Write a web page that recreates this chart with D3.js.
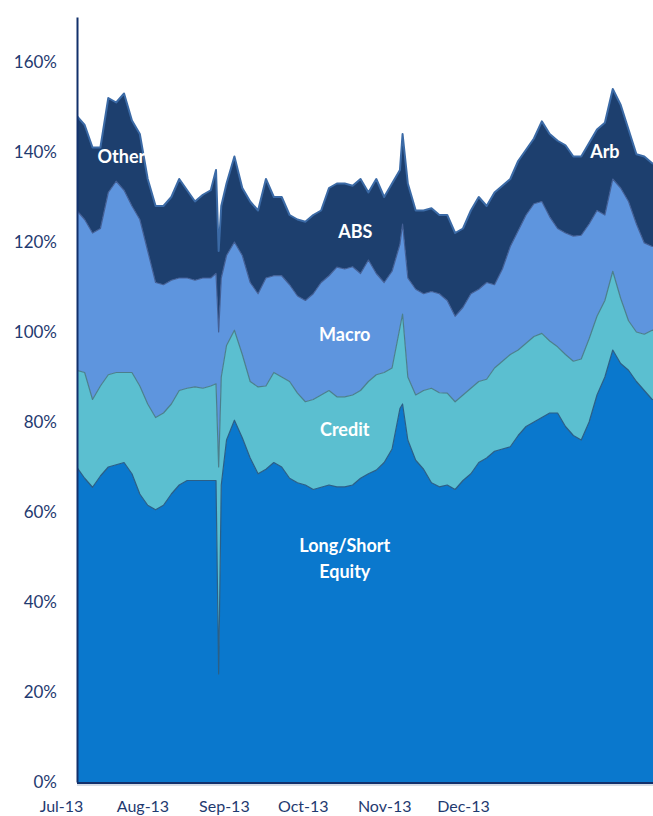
<!DOCTYPE html>
<html>
<head>
<meta charset="utf-8">
<script src="https://cdn.jsdelivr.net/npm/d3@7"></script>
<style>
  html, body { margin: 0; padding: 0; background: #ffffff; }
  svg { display: block; }
</style>
</head>
<body>
<svg id="chart" width="653" height="816"></svg>
<script>
// ---- Data (percent of capital) ----
const dates = [
  "2013-07-07","2013-07-10","2013-07-13","2013-07-16","2013-07-19","2013-07-22","2013-07-25","2013-07-28","2013-07-31",
  "2013-08-03","2013-08-06","2013-08-09","2013-08-12","2013-08-15","2013-08-18","2013-08-21","2013-08-24","2013-08-27",
  "2013-08-29","2013-08-30","2013-08-31",
  "2013-09-02","2013-09-05","2013-09-08","2013-09-11","2013-09-14","2013-09-17","2013-09-20","2013-09-23","2013-09-26","2013-09-29",
  "2013-10-02","2013-10-05","2013-10-08","2013-10-11","2013-10-14","2013-10-17","2013-10-20","2013-10-23","2013-10-26","2013-10-29",
  "2013-11-01","2013-11-04","2013-11-07","2013-11-08","2013-11-10","2013-11-13","2013-11-16","2013-11-19","2013-11-22","2013-11-25","2013-11-28",
  "2013-12-01","2013-12-04","2013-12-07","2013-12-10","2013-12-13","2013-12-16","2013-12-19","2013-12-22","2013-12-25","2013-12-28","2013-12-31",
  "2014-01-03","2014-01-06","2014-01-09","2014-01-12","2014-01-15","2014-01-18","2014-01-21","2014-01-24","2014-01-27","2014-01-30",
  "2014-02-02","2014-02-05","2014-02-08","2014-02-11","2014-02-14"
];
const longShortEquity = [
  70,67.5,65.5,68,70,70.5,71,68.5,64,
  61.5,60.5,61.5,64,66,67,67,67,67,
  67,24,66,
  76,80.4,76.5,72,68.5,69.5,71,70,67.5,66.5,
  66,65,65.5,66,65.6,65.6,66,67.5,68.5,69.3,
  71,74,83,84,76,71.5,69.5,66.5,65.6,66,65,
  67,68.5,71,72,73.5,74,74.5,77,79,80,81,
  82,82,79,77,76,80,86,90,96,93,
  91.5,89,87,85,85
];
const credit = [
  21.5,23.5,19.5,20,20.5,20.5,20,22.5,24,
  22.5,20.5,20.5,20,21,20.5,20.8,20.5,21,
  21.5,46,24,
  21,20,18.5,17,19.3,18.5,20,20,21.5,19.9,
  18.5,20,20.5,21,20,20,20,19.5,20.5,21.2,
  20,18,18,20,14,14.5,17.5,21,20.9,20.4,19.5,
  19,19,18,17.5,18.5,19.5,20.5,19,18.5,19,18.7,
  16,14.7,16,16.5,18,18.5,17.5,17,17.5,14.5,
  11,11,12.5,15.4,15
];
const macro = [
  35.5,34,37,35,40.5,42.5,40.5,37,37,
  34,30,28.5,27.5,25,24.5,23.7,24.5,24,
  24.5,30,22,
  20,19.6,22,22,20.7,24,21.5,22.5,21.5,21.6,
  22.5,23.5,25,25.5,28.8,28.4,28.5,26,27,22.5,
  20,21.5,18.5,20,22,23.5,21.5,21.5,22,20.6,19,
  19.5,21,20.5,21.5,18.5,20.5,24,26.5,28.5,29.5,29.3,
  27.6,26.3,27,27.8,27.5,25.5,23.5,19,20.5,24.5,
  26.5,24,20.3,18.6,19
];
const absArbOther = [
  21,21,19,18,21,17.5,21.5,19,19,
  16,17,17.5,18.5,22,19.5,17.5,18.5,19.5,
  23,18,16,
  16,19,15,18,18.5,22,17.5,17.5,15.5,17,
  17.5,17.5,16,19.5,18.6,19,18,21,15,21,
  19,19.5,16.5,20,21,17.5,18.5,18.5,17.5,19,18.5,
  17.5,18.5,20.5,17,20.5,18.5,15,15.5,14.5,14.5,17.8,
  18.4,19.5,19.5,17.7,17.5,18,18,20.5,20,18.5,
  16,15.5,19.2,18.5,18
];
const seriesKeys = ["Long/Short Equity", "Credit", "Macro", "ABS / Arb / Other"];
const seriesColors = ["#0a78cd", "#5bbfd0", "#5e95de", "#1d3f6e"];
const edgeColors   = ["#2b5f86", "#4b7f8c", "#435f95", "#3b6aa6"];
const yTicks = [0, 20, 40, 60, 80, 100, 120, 140, 160];
const monthTicks = ["2013-07-01","2013-08-01","2013-09-01","2013-10-01","2013-11-01","2013-12-01"];
const areaLabels = [
  { text: ["Other"], date: "2013-07-24", value: 137.5 },
  { text: ["ABS"], date: "2013-10-21", value: 121 },
  { text: ["Macro"], date: "2013-10-17", value: 98 },
  { text: ["Credit"], date: "2013-10-17", value: 77 },
  { text: ["Long/Short", "Equity"], date: "2013-10-17", value: 51.1 },
  { text: ["Arb"], date: "2014-01-24", value: 138.7 }
];

// ---- Build table ----
const parse = d3.utcParse("%Y-%m-%d");
const rows = dates.map((d, i) => ({
  date: parse(d),
  [seriesKeys[0]]: longShortEquity[i],
  [seriesKeys[1]]: credit[i],
  [seriesKeys[2]]: macro[i],
  [seriesKeys[3]]: absArbOther[i]
}));

const svg = d3.select("#chart");
const W = 653, H = 816;
const plotLeft = 77, plotBottom = 782;

const x = d3.scaleUtc()
  .domain([parse("2013-07-01"), parse("2013-12-01")])
  .range([61, 463]);
const y = d3.scaleLinear().domain([0, 170]).range([plotBottom, 17]);

const stack = d3.stack().keys(seriesKeys);
const layers = stack(rows);

svg.append("defs").append("clipPath").attr("id", "plotclip")
  .append("rect").attr("x", plotLeft).attr("y", 0).attr("width", W - plotLeft).attr("height", plotBottom);

const plot = svg.append("g").attr("clip-path", "url(#plotclip)");

const area = d3.area()
  .x(d => x(d.data.date))
  .y0(d => y(d[0]))
  .y1(d => y(d[1]));
const topLine = d3.line()
  .x(d => x(d.data.date))
  .y(d => y(d[1]));

layers.slice().reverse().forEach(layer => {
  const i = seriesKeys.indexOf(layer.key);
  plot.append("path")
    .datum(layer)
    .attr("fill", seriesColors[i])
    .attr("d", area);
});
layers.forEach(layer => {
  const i = seriesKeys.indexOf(layer.key);
  plot.append("path")
    .datum(layer)
    .attr("fill", "none")
    .attr("stroke", edgeColors[i])
    .attr("stroke-width", i === 3 ? 2 : 1.2)
    .attr("stroke-linejoin", "round")
    .attr("d", topLine);
});

// ---- Area labels ----
areaLabels.forEach(l => {
  const t = svg.append("text")
    .attr("x", x(parse(l.date)))
    .attr("y", y(l.value))
    .attr("text-anchor", "middle")
    .attr("font-family", "Lato, 'Open Sans', sans-serif")
    .attr("font-weight", "bold")
    .attr("font-size", 18)
    .attr("fill", "#ffffff");
  l.text.forEach((s, k) => {
    t.append("tspan").attr("x", x(parse(l.date))).attr("dy", k === 0 ? 0 : 26).text(s);
  });
});

// ---- Axes ----
const yAxis = d3.axisLeft(y)
  .tickValues(yTicks)
  .tickFormat(d => d + "%")
  .tickSize(0)
  .tickSizeOuter(0)
  .tickPadding(20);
const gy = svg.append("g").attr("transform", `translate(${plotLeft},0)`).call(yAxis);
gy.select(".domain").attr("stroke", "#12306b").attr("stroke-width", 2);
gy.selectAll("text")
  .attr("font-family", "Lato, 'Open Sans', sans-serif")
  .attr("font-size", 17)
  .attr("fill", "#1f3a70");

svg.append("line")
  .attr("x1", plotLeft).attr("x2", W)
  .attr("y1", plotBottom + 1).attr("y2", plotBottom + 1)
  .attr("stroke", "#12306b").attr("stroke-width", 2);
svg.append("line")
  .attr("x1", plotLeft).attr("x2", W)
  .attr("y1", plotBottom + 3).attr("y2", plotBottom + 3)
  .attr("stroke", "#c8d2dc").attr("stroke-width", 1.5);

const xAxis = d3.axisBottom(x)
  .tickValues(monthTicks.map(parse))
  .tickFormat(d3.utcFormat("%b-%y"))
  .tickSize(0)
  .tickSizeOuter(0)
  .tickPadding(19);
const gx = svg.append("g").attr("transform", `translate(0,${plotBottom})`).call(xAxis);
gx.select(".domain").remove();
gx.selectAll("text")
  .attr("font-family", "Lato, 'Open Sans', sans-serif")
  .attr("font-size", 16)
  .attr("fill", "#1f3a70");
</script>
</body>
</html>
